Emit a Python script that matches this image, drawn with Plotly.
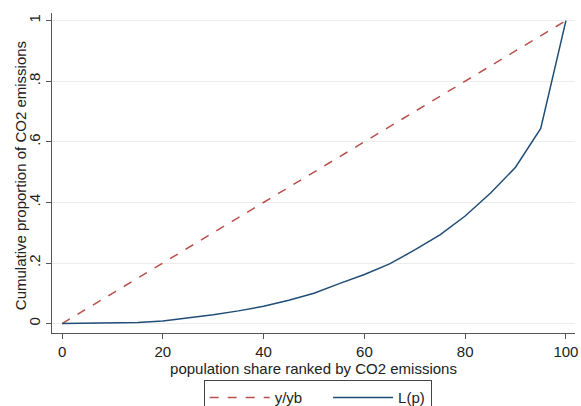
import plotly.graph_objects as go

pop_share = [0, 5, 10, 15, 20, 25, 30, 35, 40, 45, 50, 55, 60, 65, 70, 75, 80, 85, 90, 95, 100]
lorenz = [0, 0.0005, 0.002, 0.004, 0.009, 0.018, 0.029, 0.042, 0.057, 0.077, 0.10, 0.132, 0.162,
          0.197, 0.243, 0.293, 0.355, 0.43, 0.516, 0.644, 1.0]
equality_x = [0, 100]
equality_y = [0, 1]

x_ticks = [0, 20, 40, 60, 80, 100]
y_ticks = [0, 0.2, 0.4, 0.6, 0.8, 1]
y_labels = ["0", ".2", ".4", ".6", ".8", "1"]

FONT = "Liberation Sans, Arial, sans-serif"

fig = go.Figure()
fig.add_trace(go.Scatter(x=equality_x, y=equality_y, mode="lines", name="y/yb     ",
                         line=dict(color="#b8504b", width=1.5, dash="dash")))
fig.add_trace(go.Scatter(x=pop_share, y=lorenz, mode="lines", name="L(p)",
                         line=dict(color="#1f4d78", width=1.5)))

fig.update_layout(
    width=581, height=406,
    margin=dict(l=52, r=6, t=13, b=73, autoexpand=False),
    paper_bgcolor="white", plot_bgcolor="white",
    font=dict(family=FONT, size=15, color="#222222"),
    showlegend=True,
    legend=dict(orientation="h", x=0.508, xanchor="center", xref="paper",
                y=-0.148, yanchor="top", yref="paper",
                bordercolor="#444444", borderwidth=1,
                font=dict(size=15, color="#222222"),
                itemwidth=60, traceorder="normal"),
    xaxis=dict(range=[-2, 101.8], tickvals=x_ticks, ticktext=[str(v) for v in x_ticks],
               automargin=False,
               showgrid=False, zeroline=False, showline=True, linecolor="#555555", linewidth=1.2,
               ticks="outside", ticklen=5, tickcolor="#555555", tickfont=dict(size=15),
               title=dict(text="population share ranked by CO2 emissions", standoff=0,
                          font=dict(size=15))),
    yaxis=dict(range=[-0.031, 1.025], tickvals=y_ticks, ticktext=y_labels, tickangle=-90,
               automargin=False,
               showgrid=True, gridcolor="#ececec", gridwidth=1, zeroline=False,
               showline=True, linecolor="#555555", linewidth=1.2,
               ticks="outside", ticklen=5, tickcolor="#555555", tickfont=dict(size=15)),
    annotations=[dict(text="Cumulative proportion of CO2 emissions", textangle=-90,
                      xref="paper", yref="paper", x=0, y=0.49, xanchor="center", yanchor="middle",
                      xshift=-32, showarrow=False, font=dict(size=15, color="#222222"))],
)

fig.write_html("out.html", config={"displayModeBar": False},
               post_script="document.body.style.margin='0';document.body.style.padding='0';")
